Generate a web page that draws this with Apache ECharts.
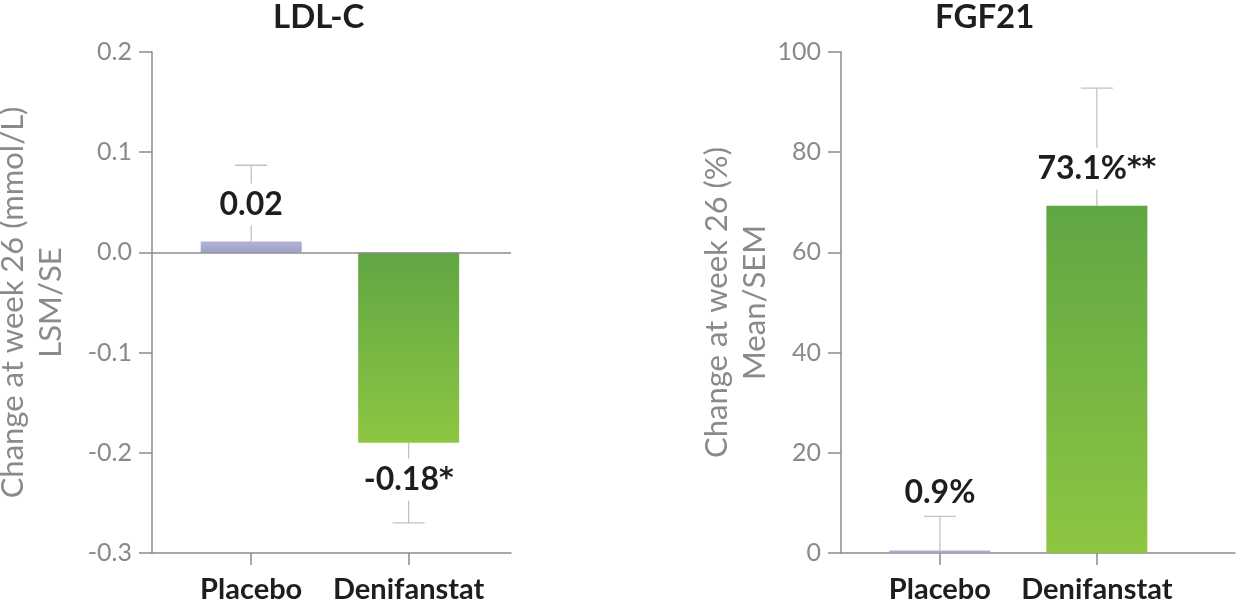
<!DOCTYPE html>
<html><head><meta charset="utf-8">
<script src="https://cdn.jsdelivr.net/npm/echarts@6/dist/echarts.min.js"></script>
<style>html,body{margin:0;padding:0;background:#fff}#c{width:1240px;height:600px}</style>
</head><body><div id="c"></div>
<script>
// ---- data ----
const categories = ['Placebo', 'Denifanstat'];
const ldlMean = [0.011, -0.19];
const ldlErrEnd = [0.087, -0.27];
const ldlLabels = ['0.02', '-0.18*'];
const fgfMean = [0.5, 69.3];
const fgfErrEnd = [7.3, 92.8];
const fgfLabels = ['0.9%', '73.1%**'];
const titles = ['LDL-C', 'FGF21'];
const yNames = ['Change at week 26 (mmol/L)\nLSM/SE', 'Change at week 26 (%)\nMean/SEM'];

// ---- styles ----
const AXIS = '#8c8c8c', TXT = '#8a8a8a', DARK = '#1e1e1e', FONT = 'Lato';
const grad = (a, b) => ({type:'linear', x:0, y:0, x2:0, y2:1, colorStops:[{offset:0, color:a},{offset:1, color:b}]});
const barColors = [grad('#b0b3d4', '#9ea2c6'), grad('#60a643', '#8dc642')];

function xAxis(gi, min, max) {
  return {type:'value', gridIndex:gi, min:min, max:max,
    axisLine:{show:true, onZero:false, lineStyle:{color:AXIS, width:1.5}},
    splitLine:{show:false},
    axisTick:{show:true, customValues:[1,2], length:12, lineStyle:{color:AXIS, width:1.5}},
    axisLabel:{customValues:[1,2], formatter:v => categories[Math.round(v)-1] || '',
      fontFamily:FONT, fontWeight:'bold', fontSize:29, color:DARK, margin:22}};
}
function yAxis(gi, min, max, interval, dec, name, gap) {
  return {type:'value', gridIndex:gi, min:min, max:max, interval:interval,
    axisLine:{show:true, onZero:false, lineStyle:{color:AXIS, width:1.5}},
    axisTick:{show:true, length:13, lineStyle:{color:AXIS, width:1.5}},
    splitLine:{show:false},
    axisLabel:{color:TXT, fontSize:25, fontFamily:FONT, margin:20,
      formatter:v => (Math.abs(v) < 1e-9 ? 0 : v).toFixed(dec)},
    name:name, nameLocation:'middle', nameGap:gap,
    nameTextStyle:{color:TXT, fontSize:31, fontFamily:FONT, lineHeight:38}};
}
function errSeries(gi, means, ends) {
  return {type:'custom', xAxisIndex:gi, yAxisIndex:gi, z:1, silent:true,
    data: means.map((m, i) => [i + 1, m, ends[i]]),
    renderItem: (params, api) => {
      const x = api.value(0);
      const p0 = api.coord([x, api.value(1)]);
      const p1 = api.coord([x, api.value(2)]);
      const style = {stroke:'#c2c2c2', lineWidth:1.3};
      return {type:'group', children:[
        {type:'line', shape:{x1:p0[0], y1:p0[1], x2:p1[0], y2:p1[1]}, style:style},
        {type:'line', shape:{x1:p1[0]-16, y1:p1[1], x2:p1[0]+16, y2:p1[1]}, style:style}
      ]};
    }};
}
function richLabel(t) {
  const k = t.indexOf('*');
  return k < 0 ? '{n|' + t + '}' : '{n|' + t.slice(0, k) + '}{s|' + t.slice(k) + '}';
}
function barSeries(gi, means, labels, dists, zeroLine) {
  const s = {type:'bar', xAxisIndex:gi, yAxisIndex:gi, z:2, barWidth:101,
    data: means.map((m, i) => ({value:[i + 1, m], itemStyle:{color:barColors[i]},
      label:{show:true, formatter:richLabel(labels[i]), position: m >= 0 ? 'top' : 'bottom', distance:dists[i]}})),
    label:{backgroundColor:'#fff', padding:[4,4],
      rich:{
        n:{fontFamily:FONT, fontWeight:'bold', fontSize:32, color:DARK, lineHeight:34},
        s:{fontFamily:'DejaVu Sans', fontWeight:'bold', fontSize:28, color:DARK, lineHeight:34, verticalAlign:'middle'}
      }}};
  if (zeroLine) {
    s.markLine = {silent:true, symbol:'none', label:{show:false},
      lineStyle:{color:AXIS, width:1.5, type:'solid'}, data:[{yAxis:0}]};
  }
  return s;
}

const option = {
  animation:false,
  backgroundColor:'#fff',
  title:[
    {text:titles[0], left:268, top:-4, textStyle:{fontFamily:FONT, fontWeight:'bold', fontSize:33, color:DARK}},
    {text:titles[1], left:930, top:-4, textStyle:{fontFamily:FONT, fontWeight:'bold', fontSize:33, color:DARK}}
  ],
  grid:[
    {left:152, right:729, top:52, bottom:47, outerBoundsMode:'none', containLabel:false},
    {left:841, right:5, top:52, bottom:47, outerBoundsMode:'none', containLabel:false}
  ],
  xAxis:[xAxis(0, 0.37, 2.65), xAxis(1, 0.37, 2.88)],
  yAxis:[yAxis(0, -0.3, 0.2, 0.1, 1, yNames[0], 82), yAxis(1, 0, 100, 20, 0, yNames[1], 62)],
  series:[
    errSeries(0, ldlMean, ldlErrEnd),
    barSeries(0, ldlMean, ldlLabels, [16, 16], true),
    errSeries(1, fgfMean, fgfErrEnd),
    barSeries(1, fgfMean, fgfLabels, [37, 16], false)
  ]
};
const chart = echarts.init(document.getElementById('c'), null, {renderer:'canvas'});
chart.setOption(option);
</script></body></html>
